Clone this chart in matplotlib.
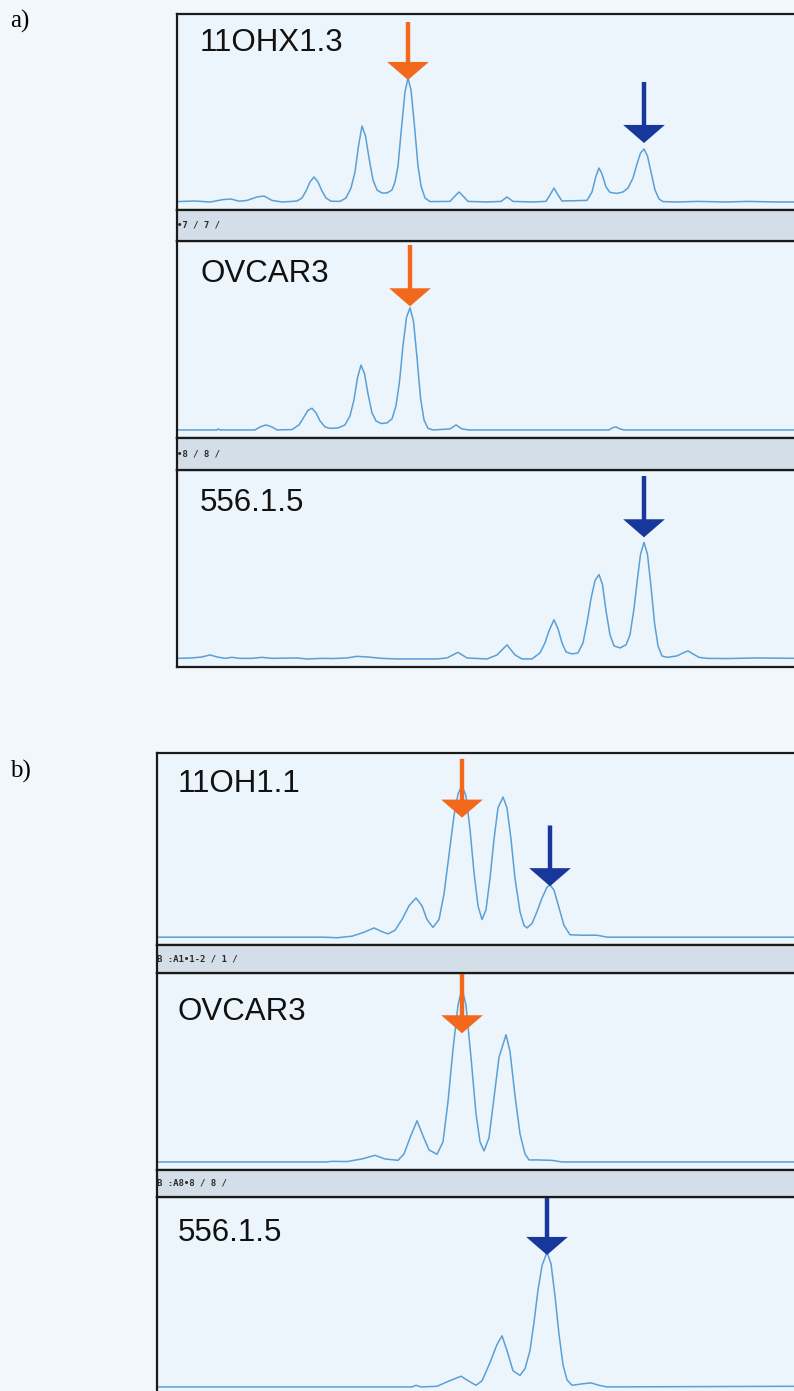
import matplotlib
matplotlib.use("Agg")
import matplotlib.pyplot as plt

# retention (x) and detector intensity (y) for every trace
a1_x = [0.0, 1.8, 3.3, 4.6, 5.4, 6.2, 7.0, 8.0, 8.7, 9.5, 10.5, 11.5, 12.0,
        12.5, 12.9, 13.3, 13.7, 14.1, 14.5, 14.9, 15.4, 16.3,
        16.9, 17.4, 17.8, 18.15, 18.5, 18.85, 19.2, 19.6, 20.0, 20.5, 21.0, 21.5,
        21.8, 22.1, 22.45, 22.8, 23.1, 23.4, 23.75, 24.1, 24.4, 24.8, 25.3,
        27.3, 27.8, 28.2, 28.6, 29.1, 31.0, 32.4, 33.0, 33.6, 35.5,
        36.9, 37.3, 37.7, 38.1, 38.5,
        41.0, 41.5, 41.9, 42.2, 42.5, 42.9, 43.3, 44.0, 44.6,
        45.1, 45.6, 46.0, 46.35, 46.7, 47.05, 47.4, 47.8, 48.2, 48.6,
        50.0, 52.0, 55.0, 57.0, 60.0, 62.3]
a1_y = [0.2, 0.5, 0.0, 1.2, 1.5, 0.4, 0.8, 2.5, 3.0, 0.8, 0.0, 0.3, 0.5,
        2.0, 5.5, 10.0, 12.5, 10.0, 5.5, 2.0, 0.4, 0.3,
        2.0, 7.0, 15.0, 28.0, 38.0, 33.0, 22.0, 11.0, 6.0, 4.5, 4.5, 6.0,
        10.0, 18.0, 37.0, 55.0, 62.0, 56.0, 38.0, 18.0, 8.0, 2.0, 0.2,
        0.3, 3.0, 5.0, 3.0, 0.3, 0.0, 0.3, 2.5, 0.3, 0.0,
        0.3, 3.5, 7.0, 3.5, 0.5,
        0.8, 5.0, 13.0, 17.0, 14.0, 7.5, 4.8, 4.3, 5.0,
        7.0, 12.0, 19.0, 24.5, 26.5, 23.0, 15.0, 6.0, 1.5, 0.2,
        0.0, 0.3, 0.0, 0.3, 0.0, 0.0]

a2_x = [0.0, 4.0, 4.1, 4.3, 7.8, 8.3, 8.9, 9.5, 10.0, 11.5,
        12.2, 12.7, 13.1, 13.5, 13.9, 14.3, 14.8, 15.3, 16.1,
        16.8, 17.3, 17.7, 18.05, 18.4, 18.75, 19.1, 19.5, 19.9, 20.4, 21.0, 21.5,
        21.9, 22.25, 22.6, 22.95, 23.3, 23.65, 24.0, 24.35, 24.7, 25.1, 25.6,
        27.3, 27.9, 28.5, 29.2, 43.2, 43.6, 43.9, 44.3, 44.7, 62.3]
a2_y = [0.0, 0.0, 0.5, 0.0, 0.0, 1.5, 2.5, 1.5, 0.0, 0.2,
        2.5, 6.5, 9.8, 10.8, 8.5, 4.5, 1.5, 0.8, 1.0,
        2.5, 7.0, 15.0, 26.0, 32.3, 28.0, 18.0, 8.5, 4.5, 3.2, 3.5, 5.5,
        12.0, 24.0, 42.0, 56.0, 60.8, 54.0, 36.0, 16.0, 5.0, 0.8, 0.0,
        0.5, 2.5, 0.5, 0.0, 0.0, 1.2, 1.5, 0.5, 0.0, 0.0]

a3_x = [0.0, 1.5, 2.5, 3.3, 4.0, 4.8, 5.5, 6.3, 7.5, 8.5, 9.5, 12.0, 13.0, 14.5, 15.5,
        17.0, 18.0, 19.0, 20.5, 22.0, 26.0, 27.0, 28.1, 29.0, 31.0, 32.0, 33.0, 33.8, 34.5,
        35.5, 36.3, 36.8, 37.2, 37.7, 38.1, 38.5, 38.9, 39.5,
        40.1, 40.6, 41.0, 41.4, 41.8, 42.2, 42.55, 42.9, 43.3, 43.7, 44.3,
        44.9, 45.3, 45.7, 46.0, 46.35, 46.7, 47.05, 47.4, 47.75, 48.1, 48.5, 49.0,
        50.0, 50.6, 51.1, 51.6, 52.2, 53.0, 55.0, 58.0, 62.3]
a3_y = [0.3, 0.5, 1.0, 2.0, 1.0, 0.3, 0.8, 0.3, 0.3, 0.8, 0.3, 0.5, 0.0, 0.3, 0.2,
        0.5, 1.3, 1.0, 0.3, 0.0, 0.0, 0.5, 3.3, 0.5, 0.0, 2.0, 7.0, 2.0, 0.0,
        0.0, 3.0, 8.0, 14.0, 19.5, 15.0, 8.0, 3.5, 2.5,
        3.0, 8.0, 18.0, 30.0, 39.0, 42.0, 37.0, 24.0, 12.0, 6.5, 5.5,
        7.0, 12.0, 25.0, 38.0, 52.0, 58.0, 52.0, 36.0, 18.0, 6.5, 1.5, 0.8,
        1.5, 3.0, 4.0, 2.5, 0.8, 0.3, 0.2, 0.5, 0.3]

b1_x = [0.0, 16.7, 18.0, 19.5, 20.7, 21.7, 22.5, 23.1, 23.8, 24.5, 25.2, 25.9, 26.5, 27.0,
        27.6, 28.2, 28.7, 29.2, 29.7, 30.1, 30.5, 30.9, 31.3, 31.7, 32.1, 32.5, 32.9, 33.3,
        33.7, 34.1, 34.6, 35.0, 35.4, 35.8, 36.3, 36.7, 37.0, 37.5, 38.0, 38.5, 39.0, 39.3,
        39.7, 40.2, 40.7, 41.3, 42.5, 44.0, 45.0, 64.3]
b1_y = [0.0, 0.0, -0.3, 0.5, 2.5, 4.7, 2.8, 1.7, 3.5, 9.0, 16.0, 20.0, 16.0, 9.0,
        5.0, 9.0, 22.0, 42.0, 62.0, 73.0, 77.5, 72.0, 55.0, 33.0, 16.0, 9.0, 14.0, 30.0,
        50.0, 66.0, 71.5, 66.0, 50.0, 30.0, 13.0, 6.0, 4.7, 7.0, 13.0, 20.0, 25.5, 26.7,
        24.0, 15.0, 6.0, 1.2, 1.0, 1.0, 0.0, 0.0]

b2_x = [0.0, 16.9, 17.5, 19.0, 20.5, 21.8, 22.8, 24.1, 24.7, 25.3, 26.0, 26.6, 27.2, 28.0,
        28.6, 29.1, 29.6, 30.1, 30.5, 30.9, 31.4, 31.9, 32.3, 32.7, 33.2, 33.7, 34.2, 34.9,
        35.3, 35.8, 36.3, 36.8, 37.2, 38.0, 39.5, 40.5, 64.3]
b2_y = [0.0, 0.0, 0.3, 0.2, 1.5, 3.3, 1.5, 0.8, 4.0, 12.0, 20.5, 13.0, 6.0, 3.8,
        10.0, 30.0, 56.0, 78.0, 86.3, 78.0, 52.0, 24.0, 10.0, 5.5, 12.0, 32.0, 52.0, 63.3,
        55.0, 33.0, 14.0, 4.0, 1.0, 1.0, 0.8, 0.0, 0.0]

b3_x = [0.0, 25.5, 25.9, 26.4, 28.0, 29.0, 30.4, 31.3, 31.9, 32.5, 33.3, 34.0, 34.5, 35.0,
        35.6, 36.3, 36.8, 37.3, 37.7, 38.1, 38.5, 39.0, 39.4, 39.8, 40.2, 40.6, 41.0, 41.5,
        42.5, 43.4, 44.2, 45.0, 63.0, 64.3]
b3_y = [0.0, 0.0, 0.8, 0.0, 0.3, 2.5, 5.3, 2.5, 0.8, 3.0, 12.0, 21.0, 25.3, 18.0,
        8.0, 5.7, 9.0, 18.0, 32.0, 48.0, 60.0, 66.7, 61.0, 45.0, 26.0, 11.0, 3.5, 0.8,
        1.5, 2.0, 0.8, 0.0, 0.3, 0.3]

samples_a = ["11OHX1.3", "OVCAR3", "556.1.5"]
samples_b = ["11OH1.1", "OVCAR3", "556.1.5"]
runs_a = ["\u20227 / 7 /", "\u20228 / 8 /"]
runs_b = ["B :A1\u20221-2 / 1 /", "B :A8\u20228 / 8 /"]

# arrows: (retention, arrow tip, arrow tail)
orange_a = [(23.1, 61.0, 90.0), (23.3, 61.5, 92.0), None]
blue_a = [(46.7, 29.5, 60.0), None, (46.7, 60.5, 91.0)]
orange_b = [(30.5, 61.0, 91.0), (30.5, 64.0, 94.0), None]
blue_b = [(39.3, 26.0, 57.0), None, (39.0, 65.3, 94.0)]

W, H = 794, 1391
BG = "#f2f7fb"
PANEL = "#ecf5fc"
BAR = "#d3dee8"
TRACE = "#5a9fd6"
ORANGE = "#f2691e"
BLUE = "#17379a"

fig = plt.figure(figsize=(W / 100, H / 100), dpi=100, facecolor=BG)


def box(left, top, right, bottom):
    return fig.add_axes([left / W, 1 - bottom / H, (right - left) / W, (bottom - top) / H])


def style(ax, color):
    ax.set_facecolor(color)
    ax.set_xticks([])
    ax.set_yticks([])
    for s in ax.spines.values():
        s.set_color("#1a1a1a")
        s.set_linewidth(1.6)


def arrow(ax, spec, color):
    if spec is None:
        return
    x, tip, tail = spec
    ax.annotate("", xy=(x, tip), xytext=(x, tail),
                arrowprops=dict(arrowstyle="simple,head_width=3.0,head_length=1.3,tail_width=0.32",
                                mutation_scale=10, color=color, shrinkA=0, shrinkB=0, lw=0))


def group(left, bounds, bars, traces, names, runs, oranges, blues, xmax, label_dx, label_y):
    for (top, bottom), (xs, ys), name, o, b, ly in zip(bounds, traces, names, oranges, blues, label_y):
        ax = box(left, top, 800, bottom)
        style(ax, PANEL)
        ax.plot(xs, ys, color=TRACE, lw=1.1)
        ax.set_xlim(0, xmax)
        ax.set_ylim(-4, 94)
        arrow(ax, o, ORANGE)
        arrow(ax, b, BLUE)
        ax.text(label_dx, ly, name, transform=ax.transAxes, fontsize=22.5,
                family="Liberation Sans", va="center", ha="left", color="#111")
    for (top, bottom), run in zip(bars, runs):
        ax = box(left, top, 800, bottom)
        style(ax, BAR)
        ax.text(0.0, 0.5, run, transform=ax.transAxes, fontsize=6.5, family="DejaVu Sans Mono",
                weight="bold", va="center", ha="left", color="#2a2a2a")


group(177, [(14, 210), (241, 438), (470, 667)], [(210, 241), (438, 470)],
      [(a1_x, a1_y), (a2_x, a2_y), (a3_x, a3_y)], samples_a, runs_a, orange_a, blue_a,
      62.3, 0.037, [0.85, 0.83, 0.83])
group(157, [(753, 945), (973, 1170), (1197, 1395)], [(945, 973), (1170, 1197)],
      [(b1_x, b1_y), (b2_x, b2_y), (b3_x, b3_y)], samples_b, runs_b, orange_b, blue_b,
      64.3, 0.032, [0.84, 0.80, 0.82])

fig.text(10 / W, 1 - 21 / H, "a)", fontsize=18, family="Liberation Serif", va="center", ha="left")
fig.text(10 / W, 1 - 771 / H, "b)", fontsize=18, family="Liberation Serif", va="center", ha="left")

fig.savefig("out.png", dpi=100, facecolor=BG)
